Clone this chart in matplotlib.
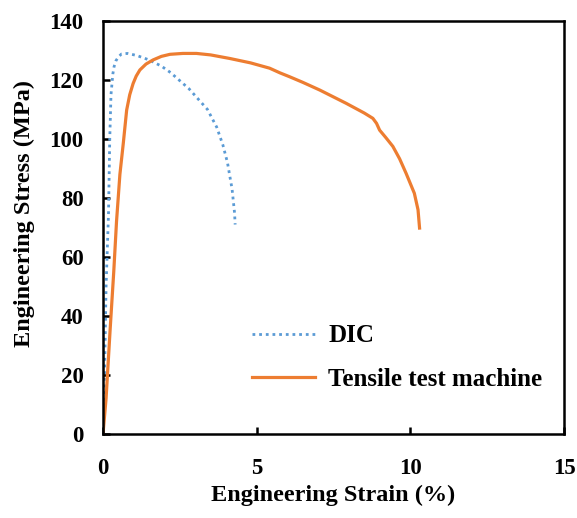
import numpy as np
import matplotlib.pyplot as plt

plt.rcParams['font.family'] = ['Liberation Serif', 'DejaVu Serif']
plt.rcParams['font.weight'] = 'bold'

# DIC curve (strain %, stress MPa)
dic_strain = [0, 0.05, 0.1, 0.18, 0.22, 0.26, 0.32, 0.36, 0.42, 0.5, 0.6, 0.8, 1.1,
              1.5, 1.9, 2.2, 2.8, 3.4, 3.7, 3.9, 4.05, 4.2, 4.28, 4.3]
dic_stress = [0, 20, 50, 75, 100, 115, 122, 124.5, 126.5, 127.8, 128.8, 129, 128.3,
              126.8, 124.7, 122.5, 117, 110, 104, 98, 92, 83, 75, 71]

# tensile test machine curve
ttm_strain = [0, 0.1, 0.23, 0.35, 0.44, 0.55, 0.66, 0.77, 0.87, 0.98, 1.08, 1.2, 1.4,
              1.63, 1.9, 2.18, 2.6, 3.04, 3.5, 4.12, 4.8, 5.42, 5.76, 6.07, 6.5, 7.05,
              7.91, 8.5, 8.78, 8.9, 9.0, 9.2, 9.43, 9.65, 9.86, 10.13, 10.25, 10.3]
ttm_stress = [0, 12, 35, 55, 72, 88, 98.5, 109.8, 115, 118.8, 121.3, 123.4, 125.4,
              126.8, 128, 128.7, 129, 129, 128.5, 127.3, 125.8, 124, 122.4, 121.1, 119.2, 116.6,
              112.1, 108.8, 107, 105.3, 103, 100.5, 97.5, 93.3, 88.4, 81.6, 76, 69.8]

fig = plt.figure(figsize=(5.77, 5.18), dpi=100)
ax = fig.add_axes([0.1785, 0.1622, 0.799, 0.7973])

ax.plot(dic_strain, dic_stress, color='#5B9BD5', lw=2, linestyle=(0, (1, 1.4)), label='DIC')
ax.plot(ttm_strain, ttm_stress, color='#ED7D31', lw=2.3, label='Tensile test machine')

ax.set_xlim(0, 15)
ax.set_ylim(0, 140)
ax.set_xticks([0, 5, 10, 15])
ax.set_yticks(np.arange(0, 141, 20))

for s in ax.spines.values():
    s.set_linewidth(1.8)
ax.tick_params(axis='both', direction='in', length=5, width=1.8, labelsize=16.5)
ax.tick_params(axis='x', pad=17)
ax.tick_params(axis='y', pad=14)

ax.set_xlabel('Engineering Strain (%)', fontsize=17.5, fontweight='bold')
ax.set_ylabel('Engineering Stress (MPa)', fontsize=17.5, fontweight='bold')
ax.xaxis.set_label_coords(0.5, -0.123)
ax.yaxis.set_label_coords(-0.148, 0.533)

fig.legend(loc='center left', bbox_to_anchor=(252 / 577, 1 - 357.5 / 518),
           frameon=False, fontsize=18, handlelength=2.5, handletextpad=0.56,
           labelspacing=0.8, borderpad=0, borderaxespad=0)

fig.savefig('out.png', dpi=100)
